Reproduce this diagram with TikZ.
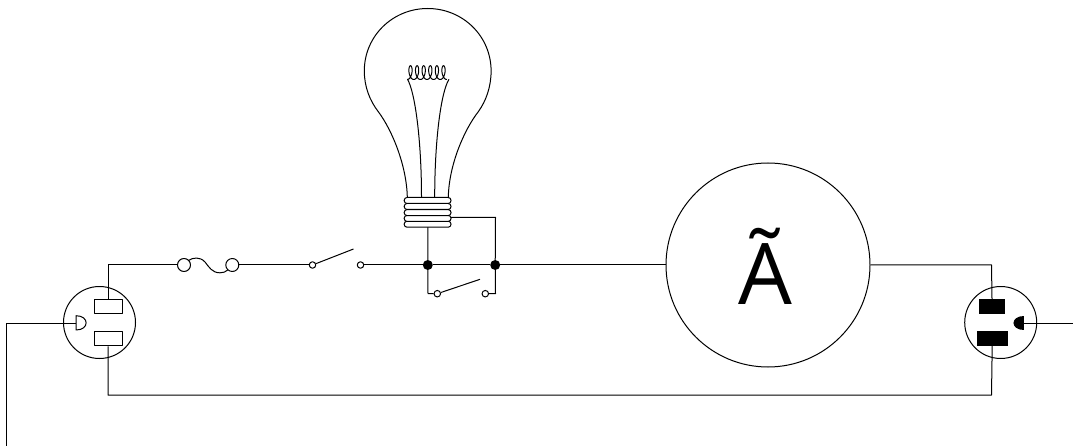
\documentclass[tikz,border=0pt]{standalone}
\usepackage{fontspec}
\setmainfont{Open Sans}
\tikzset{
  x=1pt,y=-1pt,
  wire/.style={draw=black,line width=1pt},
  term/.style={circle,draw=black,fill=white,line width=1pt,minimum size=6.5pt,inner sep=0pt},
  junc/.style={circle,fill=black,minimum size=10pt,inner sep=0pt},
  fuseend/.style={circle,draw=black,fill=white,line width=1pt,minimum size=13pt,inner sep=0pt},
  sock/.style={circle,draw=black,line width=1pt,minimum size=72pt,inner sep=0pt},
  slot/.style={rectangle,draw=black,fill=white,line width=1pt,minimum width=28pt,minimum height=14.5pt,inner sep=0pt},
  bslot/.style={rectangle,fill=black,minimum height=15pt,inner sep=0pt},
  meter/.style={circle,draw=black,line width=1pt,minimum size=204pt,inner sep=0pt},
  band/.style={draw=black,fill=white,line width=1pt,rounded corners=2.8pt},
}
\begin{document}
\begin{tikzpicture}[line join=round]
\useasboundingbox (0,0) rectangle (1073,446);
% nodes
\node[sock] (ls) at (99.5,322.5) {};
\node[slot] (lt) at (108,306.5) {};
\node[slot] (lb) at (108,338.5) {};
\node[sock] (rs) at (1000.7,322.5) {};
\node[bslot,minimum width=26.5pt] (rt) at (992,306.5) {};
\node[bslot,minimum width=31pt] (rb) at (992.2,338.5) {};
\node[fuseend] (f1) at (184,265) {};
\node[fuseend] (f2) at (232.3,265) {};
\node[term] (s1a) at (312.5,265) {};
\node[term] (s1b) at (360.5,265) {};
\node[term] (s2a) at (437.3,293.7) {};
\node[term] (s2b) at (485.3,293.7) {};
\node[junc] (j1) at (427.8,265) {};
\node[junc] (j2) at (495.2,265) {};
\node[meter] (m) at (768,265) {};
\node[anchor=base,inner sep=0pt,font=\fontsize{85}{85}\selectfont] (mt) at (765,304) {Ã};
\coordinate (tl) at (108,265);
\coordinate (bl) at (108,395);
\coordinate (tr) at (991.5,265);
\coordinate (br) at (991.5,395);
\coordinate (gl) at (76,323);
\coordinate (gr) at (1024,323);
\coordinate (glc) at (6.5,323);
\coordinate (gle) at (6.5,446);
\coordinate (gre) at (1073,323);
\coordinate (arm1) at (353.5,249);
\coordinate (arm2) at (480,279.3);
\coordinate (c1) at (428,293.7);
\coordinate (c2) at (495.5,293.7);
\coordinate (c3) at (495.5,217.3);
\coordinate (bb) at (427.8,227);
\coordinate (bs) at (451,217.3);
% wires
\draw[wire] (lt.north) -- (tl) -- (f1);
\draw[wire] (lb.south) -- (bl) -- (br) -- (rb.south);
\draw[wire] (rt.north) -- (tr) -- (m);
\draw[wire] (gl) -- (glc) -- (gle);
\draw[wire] (gr) -- (gre);
\draw[wire] (f2) -- (s1a);
\draw[wire] (s1b) -- (j1);
\draw[wire] (j1) -- (j2);
\draw[wire] (j2) -- (m);
\draw[wire] (s1a) -- (arm1);
\draw[wire] (s2a) -- (arm2);
\draw[wire] (bb) -- (j1) -- (c1) -- (s2a);
\draw[wire] (s2b) -- (c2) -- (j2);
\draw[wire] (j2) -- (c3) -- (bs);
% fuse element
\draw[wire] (188.6,260.4) .. controls (193,257.5) and (200,256.5) .. (205,262)
  .. controls (209,267) and (212,272.8) .. (220,272.8)
  .. controls (223,272.8) and (226,272) .. (228,269.8);
% ground pins
\draw[wire] (76,315.7) .. controls (89.5,315.7) and (89.5,330) .. (76,330) -- cycle;
\fill (1024,315.7) .. controls (1010,315.7) and (1010,330) .. (1024,330) -- cycle;
% bulb
\draw[wire] (407.3,197) .. controls (406.5,165) and (392,130) .. (378.3,111.7)
  .. controls (370,101) and (364.3,87) .. (364.3,71)
  .. controls (364.3,36) and (392.7,8.5) .. (427.7,8.5)
  .. controls (462.7,8.5) and (491.1,36) .. (491.1,71)
  .. controls (491.1,87) and (486,101) .. (478.3,111.7)
  .. controls (464,130) and (449,165) .. (448.3,197);
\draw[wire] (407.5,79.3) .. controls (415,92) and (421.5,140) .. (421.5,197);
\draw[wire] (449,79.3) .. controls (441,92) and (434.7,140) .. (434.7,197);
\draw[wire] plot[smooth,domain=-3.1416:34.558,samples=180,variable=\t]
  ({410.5+\t*6.6/6.2832-3.1*sin(\t r)},{72.6-6.9*cos(\t r)});
% base bands
\foreach \yy in {221.2,215.4,209.6,203.5,197.5}
  \draw[band] (404.2,\yy) rectangle (451,\yy+6);
\end{tikzpicture}
\end{document}
